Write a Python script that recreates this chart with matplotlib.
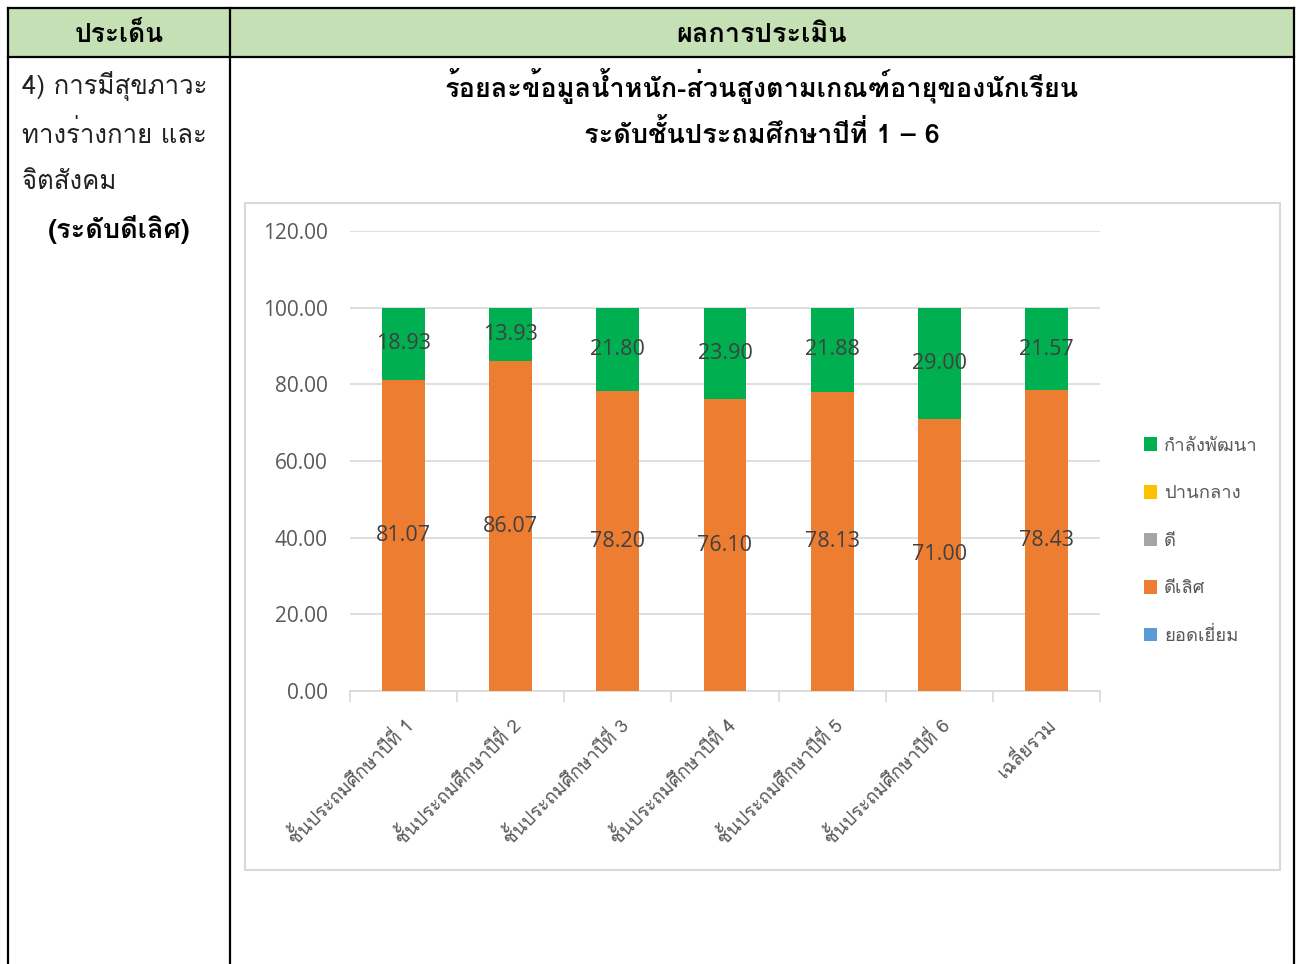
import matplotlib
matplotlib.use('Agg')
import matplotlib.pyplot as plt
from matplotlib.patches import Rectangle, Patch
from matplotlib.transforms import offset_copy

THAI = ['Loma', 'Noto Sans Thai Looped', 'DejaVu Sans']
NUM = ['Open Sans', 'DejaVu Sans']

categories = ['ชั้นประถมศึกษาปีที่ 1', 'ชั้นประถมศึกษาปีที่ 2', 'ชั้นประถมศึกษาปีที่ 3',
              'ชั้นประถมศึกษาปีที่ 4', 'ชั้นประถมศึกษาปีที่ 5', 'ชั้นประถมศึกษาปีที่ 6', 'เฉลี่ยรวม']
excellent = [0, 0, 0, 0, 0, 0, 0]          # ยอดเยี่ยม
very_good = [81.07, 86.07, 78.20, 76.10, 78.13, 71.00, 78.43]   # ดีเลิศ
good = [0, 0, 0, 0, 0, 0, 0]               # ดี
fair = [0, 0, 0, 0, 0, 0, 0]               # ปานกลาง
developing = [18.93, 13.93, 21.80, 23.90, 21.88, 29.00, 21.57]  # กำลังพัฒนา

series = [('ยอดเยี่ยม', excellent, '#5B9BD5'),
          ('ดีเลิศ', very_good, '#ED7D31'),
          ('ดี', good, '#A5A5A5'),
          ('ปานกลาง', fair, '#FFC000'),
          ('กำลังพัฒนา', developing, '#00B050')]

W, H = 1301, 964
fig = plt.figure(figsize=(W / 100, H / 100), dpi=100)

# table drawn in pixel coordinates
bg = fig.add_axes([0, 0, 1, 1])
bg.set_xlim(0, W)
bg.set_ylim(H, 0)
bg.axis('off')
bg.add_patch(Rectangle((8, 8), 1286, 49, facecolor='#C5E0B4', edgecolor='none'))
lw = 1.6
bg.plot([8, 1294], [8, 8], color='black', lw=lw)
bg.plot([8, 1294], [57, 57], color='black', lw=lw)
bg.plot([8, 8], [8, H], color='black', lw=lw)
bg.plot([1294, 1294], [8, H], color='black', lw=lw)
bg.plot([230, 230], [8, H], color='black', lw=lw)
bg.add_patch(Rectangle((245, 203), 1035, 667, facecolor='white', edgecolor='#D9D9D9', lw=1.5))

bg.text(119, 35, 'ประเด็น', ha='center', va='center', fontsize=19, fontweight='bold', family=THAI)
bg.text(762, 35, 'ผลการประเมิน', ha='center', va='center', fontsize=19.5, fontweight='bold', family=THAI)
for y, s in [(86, '4) การมีสุขภาวะ'), (134, 'ทางร่างกาย และ'), (182, 'จิตสังคม')]:
    bg.text(22, y, s, ha='left', va='center', fontsize=18.5, family=THAI, color='#222222')
bg.text(119, 230, '(ระดับดีเลิศ)', ha='center', va='center', fontsize=19.5, fontweight='bold', family=THAI)
bg.text(762, 86, 'ร้อยละข้อมูลน้ำหนัก-ส่วนสูงตามเกณฑ์อายุของนักเรียน', ha='center', va='center',
        fontsize=19.5, fontweight='bold', family=THAI)
bg.text(762, 134, 'ระดับชั้นประถมศึกษาปีที่ 1 – 6', ha='center', va='center',
        fontsize=19.5, fontweight='bold', family=THAI)

# chart
ax = fig.add_axes([350 / W, 1 - 691 / H, 750 / W, 460 / H])
x = list(range(len(categories)))
bottom = [0] * len(categories)
handles = []
for name, vals, col in series:
    bars = ax.bar(x, vals, width=0.4, bottom=bottom, color=col, zorder=3)
    if any(v > 0 for v in vals):
        texts = ax.bar_label(bars, labels=[f'{v:.2f}' for v in vals], label_type='center',
                             fontsize=15.5, color='#404040', family=NUM)
        for t in texts:
            t.set_transform(offset_copy(t.get_transform(), fig=fig, x=1, y=-3, units='points'))
    bottom = [b + v for b, v in zip(bottom, vals)]
    handles.append(Patch(facecolor=col, label=name))

ax.set_xlim(-0.5, len(categories) - 0.5)
ax.set_ylim(0, 120)
ax.set_yticks(range(0, 121, 20))
ax.set_yticklabels([f'{v:.2f}' for v in range(0, 121, 20)], family=NUM, fontsize=15, color='#595959')
ax.yaxis.grid(True, color='#D9D9D9', lw=1.2, zorder=0)
ax.set_xticks(x)
ax.set_xticklabels(categories, rotation=45, ha='right', rotation_mode='anchor',
                   family=THAI, fontsize=13.5, color='#595959')
ax.set_xticks([i - 0.5 for i in range(len(categories) + 1)], minor=True)
ax.tick_params(axis='x', which='major', length=0, pad=17)
ax.tick_params(axis='x', which='minor', length=8, color='#D9D9D9', width=1.2)
ax.tick_params(axis='y', length=0, pad=16)
for s in ['top', 'right', 'left']:
    ax.spines[s].set_visible(False)
ax.spines['bottom'].set_color('#D9D9D9')
ax.spines['bottom'].set_linewidth(1.2)
ax.set_facecolor('none')

fig.legend(handles=handles[::-1], loc='upper left', bbox_to_anchor=(1127 / W, 1 - 420 / H),
           frameon=False, prop={'family': THAI, 'size': 13.3}, labelcolor='#595959',
           handlelength=0.75, handleheight=0.75, handletextpad=0.35, labelspacing=1.6)

fig.savefig('out.png', dpi=100)
